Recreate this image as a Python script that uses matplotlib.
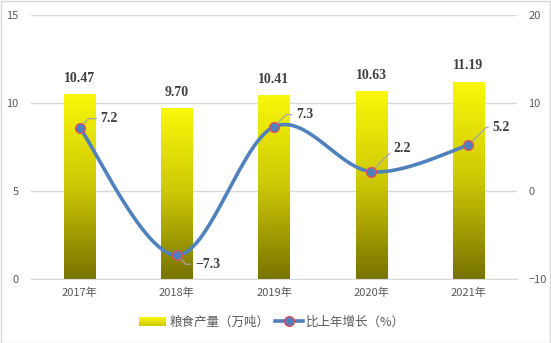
import numpy as np
import matplotlib
matplotlib.use("Agg")
import matplotlib.pyplot as plt
import matplotlib.transforms as mtransforms
from matplotlib.patches import Rectangle
from matplotlib.lines import Line2D
from matplotlib.legend_handler import HandlerBase
from matplotlib.colors import LinearSegmentedColormap

plt.rcParams['font.family'] = ['Noto Sans CJK SC', 'DejaVu Sans']

years = ["2017年", "2018年", "2019年", "2020年", "2021年"]
output = [10.47, 9.70, 10.41, 10.63, 11.19]          # 粮食产量（万吨）
growth = [7.2, -7.3, 7.3, 2.2, 5.2]                   # 比上年增长（%）
left_ticks = [0, 5, 10, 15]
right_ticks = [-10, 0, 10, 20]

# per-point label offsets in pixels (dx, dy)
growth_offsets = [(21, 9), (18, -9), (22, 12), (22, 23), (24, 18)]

GREY_TXT = "#595959"
GRID = "#D9D9D9"
VAL_TXT = "#404040"
LINE_BLUE = "#4F81BD"
TOP_Y = (0.98, 0.97, 0.04)
BOT_Y = (0.47, 0.45, 0.0)
cmap = LinearSegmentedColormap.from_list("grain", [BOT_Y, (0.80, 0.78, 0.02), TOP_Y])

W, H, DPI = 551, 343, 100
fig = plt.figure(figsize=(W / DPI, H / DPI), dpi=DPI)
fig.patch.set_facecolor("white")
fig.add_artist(Rectangle((0.5 / W, 0.5 / H), 1 - 1.5 / W, 1 - 1.5 / H,
                         transform=fig.transFigure, fill=False,
                         edgecolor="#D9D9D9", linewidth=1.0))

ax = fig.add_axes([31 / W, 1 - 279 / H, 486 / W, 264 / H])
ax2 = ax.twinx()

n = len(years)
x = np.arange(n)

# gradient-filled bars with value labels above
bw = 0.32
grad = np.linspace(0, 1, 256).reshape(-1, 1)
label_shift = ax.transData + mtransforms.ScaledTranslation(0, 7 / 72, fig.dpi_scale_trans)
for xi, v in zip(x, output):
    ax.imshow(grad, cmap=cmap, origin="lower", aspect="auto",
              extent=[xi - bw / 2, xi + bw / 2, 0, v], zorder=2,
              interpolation="bicubic")
    ax.text(xi, v, f"{v:.2f}", ha="center", va="bottom",
            fontsize=10, fontweight="bold", color=VAL_TXT,
            family="Liberation Serif", transform=label_shift)
ax.set_xlim(-0.5, n - 0.5)
ax.set_ylim(0, 15)
ax2.set_ylim(-10, 20)

# smooth growth curve (Catmull-Rom through the points, in pixel-proportional space)
sx, sy = 97.2, 8.8
P = np.column_stack([x * sx, np.array(growth) * sy])
Pext = np.vstack([P[0], P, P[-1]])
curve = []
for i in range(n - 1):
    p0, p1, p2, p3 = Pext[i], Pext[i + 1], Pext[i + 2], Pext[i + 3]
    c1 = p1 + (p2 - p0) / 6
    c2 = p2 - (p3 - p1) / 6
    t = np.linspace(0, 1, 60)[:, None]
    b = ((1 - t) ** 3) * p1 + 3 * ((1 - t) ** 2) * t * c1 + 3 * (1 - t) * t ** 2 * c2 + t ** 3 * p2
    curve.append(b if i == 0 else b[1:])
curve = np.vstack(curve)
ax2.plot(curve[:, 0] / sx, curve[:, 1] / sy, color=LINE_BLUE, linewidth=2.6,
         solid_capstyle="round", zorder=3)
ax2.plot(x, growth, linestyle="none", marker="o", markersize=7,
         markerfacecolor=LINE_BLUE, markeredgecolor="#E0505A",
         markeredgewidth=1.0, zorder=4)

for xi, g, (dx, dy) in zip(x, growth, growth_offsets):
    lbl = f"{g:.1f}".replace("-", "\u2212")
    ang = 45 if dy > 0 else -45
    ax2.annotate(lbl, xy=(xi, g), xytext=(dx * 72 / DPI, dy * 72 / DPI),
                 textcoords="offset points", ha="left", va="center",
                 fontsize=10, fontweight="bold", color=VAL_TXT,
                 family="Liberation Serif",
                 arrowprops=dict(arrowstyle="-", color="#A6A6A6", lw=0.9,
                                 relpos=(0, 0.5), shrinkA=1, shrinkB=3,
                                 connectionstyle=f"angle,angleA=180,angleB={ang},rad=0"))

# axes styling
ax.set_xticks(x)
ax.set_xticklabels(years)
ax.set_yticks(left_ticks)
ax2.set_yticks(right_ticks)
ax.grid(axis="y", color=GRID, linewidth=1.0, zorder=0)
ax.set_axisbelow(True)
for a in (ax, ax2):
    for s in a.spines.values():
        s.set_visible(False)
ax.spines["bottom"].set_visible(True)
ax.spines["bottom"].set_color(GRID)
ax.tick_params(axis="y", length=0, pad=9, labelsize=8, labelcolor=GREY_TXT)
ax2.tick_params(axis="y", length=0, pad=8, labelsize=8, labelcolor=GREY_TXT)
ax.tick_params(axis="x", length=0, pad=6, labelsize=8, labelcolor=GREY_TXT)


class GradientHandler(HandlerBase):
    def create_artists(self, legend, orig_handle, xdescent, ydescent,
                       width, height, fontsize, trans):
        arts = []
        k = 8
        for i in range(k):
            c = cmap(0.55 + 0.45 * (i + 0.5) / k)
            r = Rectangle((-xdescent, -ydescent + height * i / k), width,
                          height / k + 0.1, facecolor=c, edgecolor="none",
                          transform=trans)
            arts.append(r)
        return arts


bar_handle = Rectangle((0, 0), 1, 1)
line_handle = Line2D([], [], color=LINE_BLUE, linewidth=2.6, marker="o",
                     markersize=7, markerfacecolor=LINE_BLUE,
                     markeredgecolor="#E0505A", markeredgewidth=1.0)
fig.legend([bar_handle, line_handle], ["粮食产量（万吨）", "比上年增长（%）"],
           handler_map={Rectangle: GradientHandler()},
           loc="center", bbox_to_anchor=(272 / W, 1 - 322 / H),
           ncol=2, frameon=False, fontsize=9, handlelength=2.2,
           handleheight=0.7, columnspacing=0.4, handletextpad=0.3,
           labelcolor=GREY_TXT)

fig.savefig("out.png", dpi=DPI, facecolor="white")
